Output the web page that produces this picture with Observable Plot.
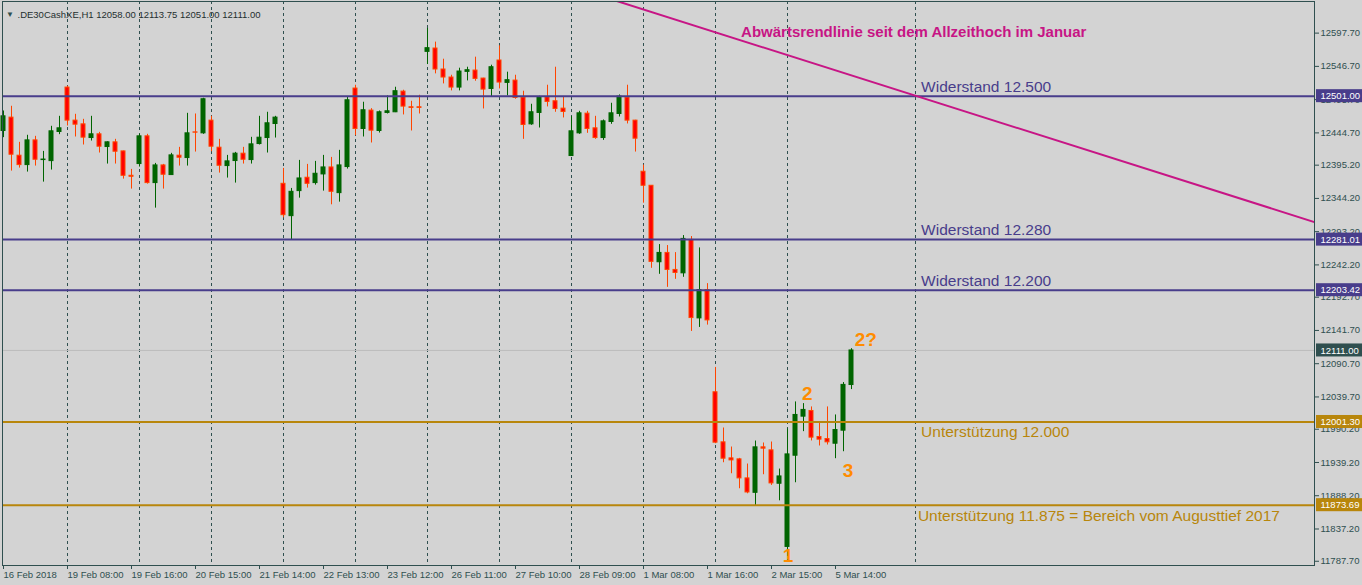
<!DOCTYPE html>
<html>
<head>
<meta charset="utf-8">
<script src="https://cdn.jsdelivr.net/npm/d3@7"></script>
<script src="https://cdn.jsdelivr.net/npm/@observablehq/plot@0.6"></script>
<style>
html, body { margin: 0; padding: 0; background: #D3D3D3; overflow: hidden; }
#chart { width: 1362px; height: 585px; }
</style>
</head>
<body>
<div id="chart"></div>
<script>
// ---------- data ----------
const symbolHeader = ".DE30CashXE,H1 12058.00 12113.75 12051.00 12111.00";

const opens = [12447.6,12468.1,12409.7,12395.3,12433.2,12403.0,12401.4,12446.1,12514.2,12463.5,
  12457.8,12436.8,12442.5,12423.0,12430.2,12416.3,12378.9,12396.9,12439.4,12367.7,
  12394.8,12380.0,12409.7,12406.1,12445.5,12444.0,12463.5,12422.0,12393.8,12401.5,
  12412.8,12403.0,12427.6,12436.8,12458.3,12366.6,12317.0,12355.4,12375.9,12367.7,
  12381.0,12391.7,12352.3,12392.3,12512.7,12450.7,12478.9,12447.6,12475.3,12476.3,
  12508.0,12484.0,12484.0,12569.0,12574.1,12541.9,12529.6,12514.2,12538.3,12540.3,
  12528.0,12512.1,12555.7,12521.4,12524.9,12498.8,12457.8,12475.3,12499.3,12493.2,
  12481.9,12409.2,12444.0,12474.2,12451.7,12436.8,12461.4,12473.7,12498.8,12463.5,
  12385.1,12363.6,12246.3,12260.6,12234.5,12229.3,12280.6,12160.2,12203.7,12046.9,
  11970.1,11945.5,11944.0,11914.8,11892.7,11962.4,11957.8,11906.6,11809.7,11949.6,
  12009.5,12018.2,11978.3,11975.2,11968.0,11988.0,12058.0];
const highs = [12478.3,12485.5,12430.2,12441.0,12439.4,12416.3,12454.8,12470.1,12516.2,12473.2,
  12465.5,12470.1,12445.5,12431.0,12434.8,12416.8,12388.7,12442.5,12442.5,12397.9,
  12396.4,12413.3,12422.5,12474.7,12473.7,12497.8,12470.1,12434.8,12410.2,12414.8,
  12422.5,12437.9,12470.1,12476.3,12470.1,12390.2,12359.5,12402.5,12396.4,12401.0,
  12410.2,12407.1,12417.9,12500.4,12517.8,12491.7,12481.9,12478.3,12501.4,12514.7,
  12510.1,12493.2,12502.4,12605.0,12583.9,12557.7,12533.1,12543.9,12545.4,12560.8,
  12528.5,12548.5,12578.2,12537.8,12533.1,12508.6,12488.6,12500.9,12517.8,12545.4,
  12499.8,12469.6,12477.8,12477.8,12470.1,12464.5,12490.1,12502.9,12517.8,12464.0,
  12395.3,12363.6,12273.4,12271.9,12261.1,12287.2,12285.7,12268.3,12213.5,12085.0,
  11992.1,11962.9,11945.5,11936.8,11972.1,11969.1,11970.6,11929.1,11990.6,12032.1,
  12029.5,12024.4,12000.3,12024.4,12012.1,12061.8,12113.75];
const lows = [12437.4,12386.1,12390.7,12384.6,12393.8,12369.2,12387.7,12442.0,12455.3,12438.4,
  12426.1,12432.2,12413.8,12396.9,12396.9,12373.8,12358.5,12392.3,12366.1,12329.3,
  12358.5,12380.0,12393.8,12393.8,12415.3,12442.5,12415.8,12383.0,12375.4,12367.7,
  12396.9,12396.9,12426.1,12413.8,12436.8,12314.4,12280.6,12344.6,12360.0,12364.6,
  12355.4,12334.4,12338.5,12389.2,12440.4,12438.4,12429.2,12444.5,12473.7,12475.8,
  12472.2,12447.6,12473.7,12549.5,12535.2,12519.8,12509.1,12509.1,12524.4,12523.9,
  12481.4,12499.8,12512.1,12501.4,12496.3,12434.8,12456.3,12452.2,12484.5,12476.3,
  12467.6,12408.7,12442.5,12444.0,12434.8,12433.2,12457.8,12469.1,12458.4,12415.3,
  12336.9,12237.0,12227.8,12207.8,12220.1,12223.2,12140.2,12146.3,12149.9,11968.0,
  11938.8,11921.9,11898.9,11891.2,11872.7,11920.4,11904.0,11880.4,11797.0,11908.1,
  11986.5,11972.2,11964.5,11966.0,11945.0,11955.7,12051.0];
const closes = [12470.1,12411.2,12395.3,12433.2,12403.5,12403.8,12447.1,12451.7,12463.5,12457.3,
  12437.4,12442.5,12423.5,12430.2,12415.8,12378.9,12377.4,12439.4,12367.7,12394.8,
  12380.5,12410.2,12406.6,12444.0,12445.0,12496.3,12423.5,12394.3,12401.0,12412.8,
  12403.5,12427.1,12437.3,12459.4,12468.1,12318.5,12354.3,12374.8,12366.6,12382.0,
  12391.7,12354.3,12394.8,12494.7,12450.7,12479.4,12448.1,12476.3,12477.8,12508.6,
  12485.0,12483.0,12483.0,12574.6,12541.9,12529.6,12514.2,12538.8,12540.8,12527.5,
  12511.1,12545.4,12521.9,12525.5,12498.3,12456.8,12476.3,12499.3,12492.2,12481.4,
  12476.8,12447.1,12474.7,12450.7,12436.8,12462.4,12474.7,12500.4,12463.5,12435.8,
  12363.6,12246.8,12260.6,12234.5,12229.9,12282.1,12160.7,12203.7,12157.1,11969.6,
  11945.0,11942.4,11914.8,11893.2,11962.4,11960.4,11907.1,11917.8,11951.6,12012.1,
  12019.8,11977.3,11974.2,11970.1,11989.0,12058.2,12111.0];

const timeLabelIdx = [0,8,16,24,32,40,48,56,64,72,80,88,96,104];
const timeLabels = ["16 Feb 2018","19 Feb 08:00","19 Feb 16:00","20 Feb 15:00","21 Feb 14:00",
  "22 Feb 13:00","23 Feb 12:00","26 Feb 11:00","27 Feb 10:00","28 Feb 09:00",
  "1 Mar 08:00","1 Mar 16:00","2 Mar 15:00","5 Mar 14:00"];
const gridIdx = [8,17,26,35,44,53,62,71,80,89,98,114];

const priceTicks = [12597.70,12546.70,12495.70,12444.70,12395.20,12344.20,12293.20,12242.20,
  12192.70,12141.70,12090.70,12039.70,11990.20,11939.20,11888.20,11837.20,11787.70];

const resistanceLevels = [12501.00, 12281.01, 12203.42];
const resistanceTexts = ["Widerstand 12.500", "Widerstand 12.280", "Widerstand 12.200"];
const resistanceTextIdx = [114.7, 114.7, 114.7];
const supportLevels = [12001.30, 11873.69];
const supportTexts = ["Unterstützung 12.000", "Unterstützung 11.875 = Bereich vom Augusttief 2017"];
const supportTextIdx = [114.7, 114.3];
const currentPrice = 12111.00;

const trendIdx = [60, 170];
const trendVals = [12711.7, 12284.0];
const trendText = "Abwärtsrendlinie seit dem Allzeithoch im Januar";
const trendTextIdx = 92.2;
const trendTextVal = 12592.5;

const waveLabels = ["1", "2", "3", "2?"];
const waveIdx = [97.4, 99.8, 104.9, 106.4];
const waveVals = [11786.3, 12035.3, 11916.6, 12118.1];

// ---------- build ----------
const W = 1362, H = 585;
const mL = 2, mR = 48, mT = 1, mB = 20;
const barPx = 8;
const xDomain = [-0.125, -0.125 + (W - mL - mR) / barPx];
const yDomain = [11781.2, 12646.2];
const valPerPx = (yDomain[1] - yDomain[0]) / (H - mT - mB);

const candles = opens.map((o, i) => ({i, o, h: highs[i], l: lows[i], c: closes[i]}));
const up = candles.filter(d => d.c >= d.o);
const down = candles.filter(d => d.c < d.o);

const resist = resistanceLevels.map((v, k) => ({v, t: resistanceTexts[k], i: resistanceTextIdx[k]}));
const support = supportLevels.map((v, k) => ({v, t: supportTexts[k], i: supportTextIdx[k]}));
const trend = trendIdx.map((i, k) => ({i, v: trendVals[k]}));
const waves = waveLabels.map((t, k) => ({t, i: waveIdx[k], v: waveVals[k]}));

const BLUE = "#483D8B", GOLD = "#B8860B", PINK = "#C71585", ORANGE = "#FF8C00";
const GREEN = "#006400", RED = "#FF0000", REDLINE = "#FF4500", SLATE = "#2F4F4F";
const FONT = "'Liberation Sans', Arial, sans-serif";

const tagX1 = xDomain[1] + 2 / barPx, tagX2 = xDomain[1] + (mR) / barPx, tagTx = xDomain[1] + 6 / barPx;
const tagH = 6.5 * valPerPx;
function tags(values, color) {
  return [
    Plot.rect(values, {x1: () => tagX1, x2: () => tagX2, y1: d => d - tagH, y2: d => d + tagH, fill: color}),
    Plot.text(values, {x: () => tagTx, y: d => d, text: d => d.toFixed(2), fill: "white", textAnchor: "start", fontSize: 9.5})
  ];
}

const chart = Plot.plot({
  width: W, height: H,
  marginLeft: mL, marginRight: mR, marginTop: mT, marginBottom: mB,
  x: {type: "linear", domain: xDomain, axis: null},
  y: {type: "linear", domain: yDomain, axis: null},
  style: {background: "#D3D3D3", fontFamily: FONT, fontSize: "9.5px", color: SLATE},
  marks: [
    Plot.ruleX(gridIdx, {stroke: SLATE, strokeDasharray: "3,3", strokeWidth: 1}),
    Plot.ruleY([currentPrice], {stroke: "#BDBDBD", strokeWidth: 1}),
    // candles
    Plot.ruleX(up, {x: "i", y1: "l", y2: "h", stroke: GREEN, strokeWidth: 1}),
    Plot.ruleX(down, {x: "i", y1: "l", y2: "h", stroke: REDLINE, strokeWidth: 1}),
    Plot.rect(up, {x1: d => d.i - 0.25, x2: d => d.i + 0.25, y1: "o", y2: "c", fill: GREEN, stroke: GREEN, strokeWidth: 1}),
    Plot.rect(down, {x1: d => d.i - 0.25, x2: d => d.i + 0.25, y1: "o", y2: "c", fill: RED, stroke: REDLINE, strokeWidth: 1}),
    // levels
    Plot.ruleY(resistanceLevels, {stroke: BLUE, strokeWidth: 2}),
    Plot.ruleY(supportLevels, {stroke: GOLD, strokeWidth: 2}),
    Plot.line(trend, {x: "i", y: "v", stroke: PINK, strokeWidth: 2, clip: true}),
    // texts
    Plot.text(resist, {x: "i", y: "v", text: "t", fill: BLUE, textAnchor: "start", lineAnchor: "bottom", dy: -4.5, fontSize: 15.5, fontFamily: FONT}),
    Plot.text(support, {x: "i", y: "v", text: "t", fill: GOLD, textAnchor: "start", lineAnchor: "bottom", dy: 15.5, fontSize: 15.5, fontFamily: FONT}),
    Plot.text([trendText], {x: () => trendTextIdx, y: () => trendTextVal, text: d => d, fill: PINK, textAnchor: "start", lineAnchor: "bottom", fontSize: 15, fontWeight: "bold", fontFamily: FONT}),
    Plot.text(waves, {x: "i", y: "v", text: "t", fill: ORANGE, textAnchor: "start", lineAnchor: "bottom", fontSize: 19, fontWeight: "bold", fontFamily: FONT}),
    // header
    Plot.text(["▼"], {frameAnchor: "top-left", dx: 7.5, dy: 9.5, textAnchor: "middle", fontSize: 8, fill: SLATE}),
    Plot.text([symbolHeader], {frameAnchor: "top-left", dx: 15, dy: 10, textAnchor: "start", fontSize: 9.5, fill: "#1F2F2F"}),
    // frame and axes
    Plot.frame({stroke: SLATE}),
    Plot.axisY({anchor: "right", ticks: priceTicks, tickFormat: d => d.toFixed(2), tickSize: 4, tickPadding: 2, label: null, fontSize: 9.5}),
    Plot.axisX({anchor: "bottom", ticks: timeLabelIdx, tickFormat: d => timeLabels[timeLabelIdx.indexOf(d)], tickSize: 4, tickPadding: 2, textAnchor: "start", label: null, fontSize: 9.5}),
    ...tags(resistanceLevels, BLUE),
    ...tags([currentPrice], SLATE),
    ...tags(supportLevels, GOLD)
  ]
});
document.getElementById("chart").appendChild(chart);
</script>
</body>
</html>
